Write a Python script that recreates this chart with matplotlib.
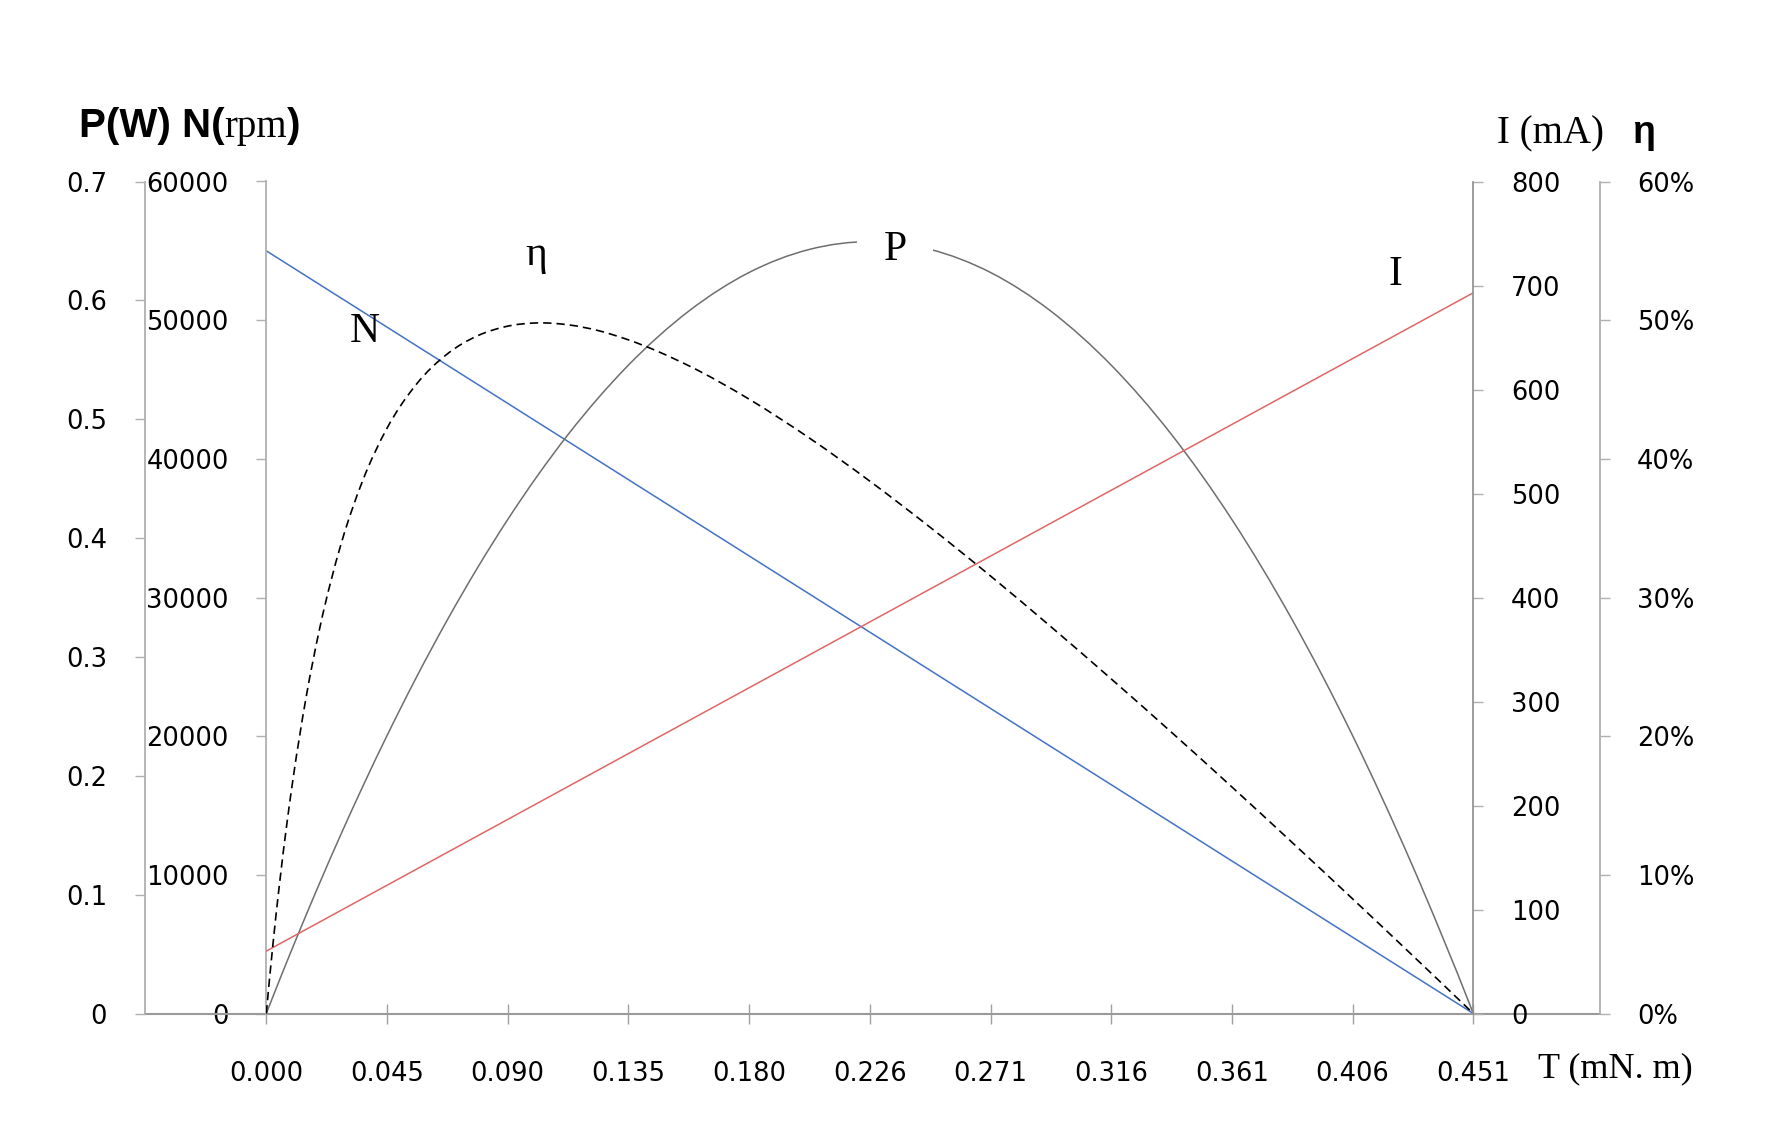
import numpy as np
import matplotlib
matplotlib.use('Agg')
from matplotlib import pyplot as plt
from matplotlib.lines import Line2D
from matplotlib.path import Path
from matplotlib.patches import PathPatch

# speed and current are straight lines between these end points
line_torque = [0, 0.451]
speed = [55000, 0]
current = [60, 693]

# power and efficiency
torque = [0, 0.0025, 0.005, 0.0075, 0.01, 0.015, 0.02, 0.028, 0.036, 0.045,
          0.056, 0.068, 0.079, 0.090, 0.101, 0.113, 0.124, 0.135, 0.158, 0.180,
          0.203, 0.226, 0.248, 0.271, 0.293, 0.316, 0.338, 0.361, 0.383, 0.406,
          0.428, 0.451]
power = [0, 0.0143, 0.0285, 0.0425, 0.0563, 0.0835, 0.1101, 0.1513, 0.1908, 0.2333,
         0.2825, 0.3326, 0.3753, 0.4149, 0.4514, 0.4878, 0.5178, 0.5448, 0.5912, 0.6230,
         0.6429, 0.6494, 0.6429, 0.6230, 0.5912, 0.5448, 0.4878, 0.4149, 0.3326, 0.2333,
         0.1257, 0]
eff = [0, 5.02, 9.46, 13.41, 16.93, 22.94, 27.82, 33.90, 38.42, 42.17,
       45.36, 47.62, 48.88, 49.56, 49.80, 49.66, 49.25, 48.60, 46.70, 44.35,
       41.49, 38.32, 35.07, 31.49, 27.92, 24.08, 20.32, 16.30, 12.39, 8.25,
       4.24, 0]

x_labels = ['0.000', '0.045', '0.090', '0.135', '0.180', '0.226',
            '0.271', '0.316', '0.361', '0.406', '0.451']
p_ticks = [0, 0.1, 0.2, 0.3, 0.4, 0.5, 0.6, 0.7]
n_ticks = [0, 10000, 20000, 30000, 40000, 50000, 60000]
i_ticks = [0, 100, 200, 300, 400, 500, 600, 700, 800]
e_ticks = [0, 10, 20, 30, 40, 50, 60]

W, H = 1777, 1147
spine_c = '#b0b0b0'
tick_fs = 18.5


def smooth_line(a, x, y, **kw):
    # smoothed line like excel: cubic bezier pieces through the data points
    x = np.asarray(x, float)
    y = np.asarray(y, float)
    h = np.diff(x)
    d = np.diff(y) / h
    m = np.empty_like(y)
    m[1:-1] = (h[:-1] * d[1:] + h[1:] * d[:-1]) / (h[:-1] + h[1:])
    m[0] = ((2 * h[0] + h[1]) * d[0] - h[0] * d[1]) / (h[0] + h[1])
    m[-1] = ((2 * h[-1] + h[-2]) * d[-1] - h[-1] * d[-2]) / (h[-1] + h[-2])
    verts = [(x[0], y[0])]
    codes = [Path.MOVETO]
    for i in range(len(x) - 1):
        s = h[i] / 3
        verts += [(x[i] + s, y[i] + m[i] * s), (x[i + 1] - s, y[i + 1] - m[i + 1] * s),
                  (x[i + 1], y[i + 1])]
        codes += [Path.CURVE4] * 3
    a.add_patch(PathPatch(Path(verts, codes), fill=False, **kw))


fig = plt.figure(figsize=(W / 100, H / 100), dpi=100)
ax = fig.add_axes([266.3 / W, 1 - 1013.5 / H, 1207 / W, 832 / H])
axP = ax.twinx()
axI = ax.twinx()
axE = ax.twinx()

for a in (ax, axP, axI, axE):
    for s in a.spines.values():
        s.set_visible(False)
    a.set_xlim(0, 0.451)

# speed on the main axes
ax.plot(line_torque, speed, color='#4472c4', lw=1.1)
ax.set_ylim(0, 60000)
ax.spines['left'].set_visible(True)
ax.spines['left'].set_color(spine_c)
ax.spines['left'].set_linewidth(1.3)
ax.set_yticks(n_ticks)
ax.set_yticklabels([str(v) for v in n_ticks])
ax.tick_params(axis='y', direction='out', length=7.5, width=1, color=spine_c,
               pad=19.5, labelsize=tick_fs)
ax.set_xticks(np.linspace(0, 0.451, 11))
ax.set_xticklabels(x_labels)
ax.tick_params(axis='x', direction='inout', length=15, width=1, color='#a0a0a0',
               pad=27, labelsize=tick_fs)

# bottom line runs from the P axis to the efficiency axis
ax.add_line(Line2D([-0.1003, 1.1052], [0, 0], transform=ax.transAxes,
                   color='#9a9a9a', lw=1.5, clip_on=False))

# power, far left axis
smooth_line(axP, torque, power, edgecolor='#6e6e6e', lw=1.1)
axP.set_ylim(0, 0.7)
axP.spines['left'].set_visible(True)
axP.spines['left'].set_position(('axes', -0.1003))
axP.spines['left'].set_color(spine_c)
axP.spines['left'].set_linewidth(1.3)
axP.yaxis.set_ticks_position('left')
axP.yaxis.set_label_position('left')
axP.set_yticks(p_ticks)
axP.set_yticklabels(['0' if v == 0 else '%.1f' % v for v in p_ticks])
axP.tick_params(axis='y', direction='out', length=7.5, width=1, color=spine_c,
                pad=20, labelsize=tick_fs)

# current, right axis
axI.plot(line_torque, current, color='#e06666', lw=1.1)
axI.set_ylim(0, 800)
axI.spines['right'].set_visible(True)
axI.spines['right'].set_color('#8c8c8c')
axI.spines['right'].set_linewidth(1.2)
axI.set_yticks(i_ticks)
axI.set_yticklabels([str(v) for v in i_ticks])
axI.tick_params(axis='y', direction='out', length=7.5, width=1, color=spine_c,
                pad=19.5, labelsize=tick_fs)

# efficiency, far right axis
smooth_line(axE, torque, eff, edgecolor='black', lw=1.2, linestyle=(0, (5, 3)))
axE.set_ylim(0, 60)
axE.spines['right'].set_visible(True)
axE.spines['right'].set_position(('axes', 1.1052))
axE.spines['right'].set_color(spine_c)
axE.spines['right'].set_linewidth(1.3)
axE.set_yticks(e_ticks)
axE.set_yticklabels(['%d%%' % v for v in e_ticks])
axE.tick_params(axis='y', direction='out', length=7.5, width=1, color=spine_c,
                pad=19, labelsize=tick_fs)

# curve names
lab = dict(family='Liberation Serif', fontsize=30, ha='center', va='center',
           transform=axE.transAxes)
axE.text(0.0818, 0.820, 'N', **lab)
axE.text(0.2237, 0.912, 'η', **lab)
axE.text(0.5209, 0.918, 'P', bbox=dict(facecolor='white', edgecolor='none', pad=19), **lab)
axE.text(0.9352, 0.888, 'I', **lab)

# axis titles
r = fig.canvas.get_renderer()
yb = 1 - 137 / H
t1 = fig.text(79 / W, yb, 'P(W) N(', family='Liberation Sans', fontweight='bold',
              fontsize=29, va='baseline')
x1 = t1.get_window_extent(r).x1
t2 = fig.text(x1 / W, yb, 'rpm', family='Liberation Serif', fontsize=28, va='baseline')
x2 = t2.get_window_extent(r).x1
fig.text(x2 / W, yb, ')', family='Liberation Sans', fontweight='bold',
         fontsize=29, va='baseline')

fig.text(1497 / W, 1 - 143 / H, 'I (mA)', family='Liberation Serif', fontsize=28,
         va='baseline')
fig.text(1632 / W, 1 - 143 / H, 'η', family='Liberation Sans', fontweight='bold',
         fontsize=27, va='baseline')
fig.text(1538 / W, 1 - 1077 / H, 'T (mN. m)', family='Liberation Serif', fontsize=26,
         va='baseline')

fig.savefig('out.png', dpi=100, facecolor='white')
